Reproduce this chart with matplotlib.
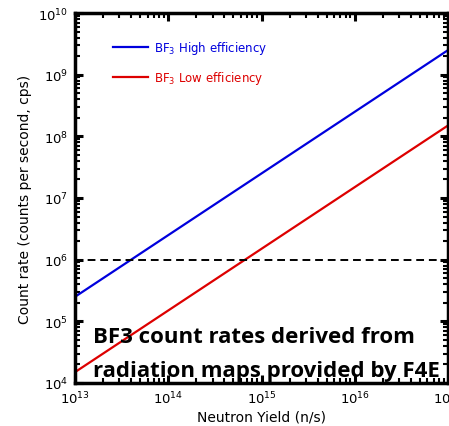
import numpy as np
import matplotlib
matplotlib.use("Agg")
import matplotlib.pyplot as plt
from matplotlib.ticker import LogLocator, NullFormatter

# Data
yield_ns = [1e13, 1e17]
high_eff_factor = 2.5e-8   # counts per neutron (BF3 high efficiency)
low_eff_factor = 1.5e-9    # counts per neutron (BF3 low efficiency)
high_eff = [y * high_eff_factor for y in yield_ns]
low_eff = [y * low_eff_factor for y in yield_ns]
threshold = 1e6
labels = [r"BF$_3$ High efficiency", r"BF$_3$ Low efficiency"]
note_lines = ["BF3 count rates derived from", "radiation maps provided by F4E"]

plt.rcParams['font.family'] = ['DejaVu Sans']
plt.rcParams['mathtext.default'] = 'regular'

fig = plt.figure(figsize=(4.49, 4.27), dpi=100)
ax = fig.add_axes([75/449, 43/427, 373/449, 370/427])

blue = '#0000dd'
red = '#dd0000'
ax.plot(yield_ns, high_eff, color=blue, lw=1.6)
ax.plot(yield_ns, low_eff, color=red, lw=1.6)
ax.axhline(threshold, color='black', lw=1.4, dashes=(4, 2.5))

ax.set_xscale('log')
ax.set_yscale('log')
ax.set_xlim(1e13, 1e17)
ax.set_ylim(1e4, 1e10)

ax.xaxis.set_major_locator(LogLocator(base=10, numticks=10))
ax.yaxis.set_major_locator(LogLocator(base=10, numticks=10))
ax.xaxis.set_minor_locator(LogLocator(base=10, subs=np.arange(2, 10), numticks=20))
ax.yaxis.set_minor_locator(LogLocator(base=10, subs=np.arange(2, 10), numticks=20))
ax.xaxis.set_minor_formatter(NullFormatter())
ax.yaxis.set_minor_formatter(NullFormatter())

ax.tick_params(which='both', direction='in', top=True, right=True, labelsize=9.5)
ax.tick_params(which='major', length=6, width=2.2, pad=5)
ax.tick_params(which='minor', length=3.5, width=1.5)
for s in ax.spines.values():
    s.set_linewidth(2.5)

ax.set_xlabel("Neutron Yield (n/s)", fontsize=10, labelpad=2)
ax.set_ylabel("Count rate (counts per second, cps)", fontsize=10, labelpad=4)

# Legend drawn manually as in reference
for i, (lab, col) in enumerate(zip(labels, [blue, red])):
    yy = 0.908 - i * 0.081
    ax.plot([0.102, 0.197], [yy, yy], transform=ax.transAxes, color=col, lw=1.6)
    ax.text(0.212, yy, lab, transform=ax.transAxes, color=col, fontsize=8.5,
            va='center', ha='left')

for txt, yb in zip(note_lines, [0.111, 0.019]):
    ax.text(0.048, yb, txt, transform=ax.transAxes, fontsize=16,
            fontweight='bold', family='Open Sans', color='black',
            ha='left', va='baseline')

fig.savefig("out.png", dpi=100)
